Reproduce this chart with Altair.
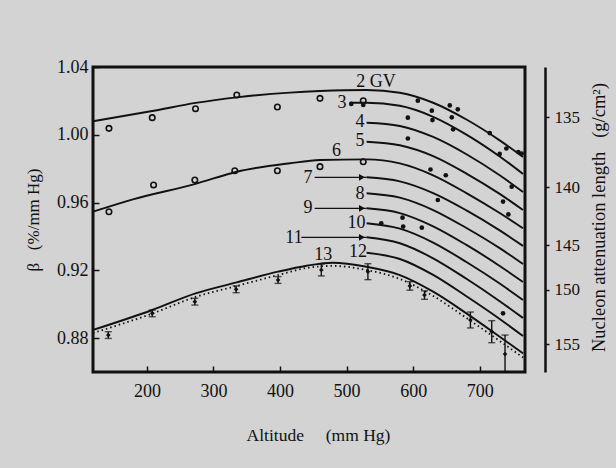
import altair as alt
import pandas as pd

FONT = "Liberation Serif"
BG = "#d3d3d3"
INK = "#111111"

# ---- curves (x in mm Hg, beta in %/mm Hg) ----
x_c2 = [119, 208, 273, 335, 415, 460, 530, 580, 630, 680, 730, 765]
b_c2 = [1.0080, 1.0140, 1.0188, 1.0221, 1.0249, 1.0258, 1.0264, 1.0248, 1.0189, 1.0090, 0.9967, 0.9869]
x_c3 = [505, 530, 580, 630, 680, 730, 765]
b_c3 = [1.0189, 1.0189, 1.0171, 1.0106, 1.0001, 0.9872, 0.9769]
x_right = [530, 580, 630, 680, 730, 765]
b_c4 = [1.0071, 1.0052, 0.9987, 0.9885, 0.9761, 0.9662]
b_c5 = [0.9959, 0.9938, 0.9874, 0.9771, 0.9651, 0.9556]
x_c6 = [119, 179, 273, 335, 415, 460, 530, 580, 630, 680, 730, 765]
b_c6 = [0.9546, 0.9619, 0.9710, 0.9782, 0.9832, 0.9851, 0.9855, 0.9831, 0.9761, 0.9656, 0.9538, 0.9448]
b_c7 = [0.9749, 0.9725, 0.9656, 0.9554, 0.9436, 0.9344]
b_c8 = [0.9655, 0.9629, 0.9556, 0.9450, 0.9331, 0.9237]
b_c9 = [0.9566, 0.9538, 0.9460, 0.9350, 0.9226, 0.9131]
b_c10 = [0.9478, 0.9446, 0.9364, 0.9249, 0.9122, 0.9025]
b_c11 = [0.9395, 0.9360, 0.9271, 0.9150, 0.9018, 0.8919]
b_c12 = [0.9304, 0.9267, 0.9173, 0.9047, 0.8913, 0.8812]
x_c13 = [119, 208, 273, 335, 397, 440, 479, 530, 580, 630, 680, 730, 765]
b_c13 = [0.8848, 0.8966, 0.9064, 0.9129, 0.9192, 0.9227, 0.9245, 0.9221, 0.9172, 0.9074, 0.8946, 0.8808, 0.8710]
b_c13_dotted = [0.8830, 0.8945, 0.9043, 0.9108, 0.9172, 0.9214, 0.9226, 0.9202, 0.9149, 0.9049, 0.8919, 0.8783, 0.8686]

# ---- data points ----
x_open_a = [143, 208, 273, 335, 396, 460, 525]
b_open_a = [1.0038, 1.0101, 1.0154, 1.0235, 1.0164, 1.0215, 1.0201]
x_open_b = [143, 210, 272, 332, 396, 460, 525]
b_open_b = [0.9546, 0.9704, 0.9733, 0.9788, 0.9788, 0.9812, 0.9841]

x_err = [142, 208, 272, 334, 397, 462, 532, 595, 617, 686, 718, 738]
b_err = [0.8818, 0.8946, 0.9015, 0.9088, 0.9143, 0.9202, 0.9192, 0.9108, 0.9054, 0.8907, 0.8838, 0.8706]
err_up = [0.002, 0.002, 0.002, 0.002, 0.002, 0.0035, 0.0047, 0.0025, 0.0025, 0.0047, 0.0065, 0.0112]
err_dn = [0.002, 0.002, 0.002, 0.002, 0.002, 0.0035, 0.0047, 0.0025, 0.0025, 0.0047, 0.0065, 0.0106]

x_dots = [507, 525, 607, 655, 667, 628, 658, 592, 629, 660, 715, 740, 730, 758, 763,
          592, 626, 649, 748, 735, 637, 743, 552, 584, 585, 613, 735]
b_dots = [1.0182, 1.0176, 1.0201, 1.0173, 1.0150, 1.0142, 1.0103, 1.0101, 1.0087, 1.0032,
          1.0010, 0.9919, 0.9887, 0.9898, 0.9889, 0.9978, 0.9795, 0.9761, 0.9694, 0.9606,
          0.9615, 0.9530, 0.9478, 0.9511, 0.9458, 0.9452, 0.8946]

# ---- curve labels ----
lab_text = ["2 GV", "3", "4", "5", "6", "7", "8", "9", "10", "11", "12", "13"]
lab_x = [544, 493, 520, 520, 485, 442, 520, 442, 515, 421, 517, 465]
lab_b = [1.0313, 1.0189, 1.0077, 0.9963, 0.9906, 0.9743, 0.9650, 0.9566, 0.9481, 0.9393, 0.9310, 0.9290]

# arrows for 7, 9, 11
arr_x0 = [452, 452, 432]
arr_x1 = [530, 530, 530]
arr_head = [523, 523, 523]
arr_b = [0.9749, 0.9566, 0.9395]

# ---- axes ----
x_ticks = [200, 300, 400, 500, 600, 700]
y_ticks = [0.88, 0.92, 0.96, 1.00, 1.04]
rt_labels = [135, 140, 145, 150, 155]
rt_beta = [1.0103, 0.9690, 0.9349, 0.9084, 0.8763]

# ---- build tables ----
rows = []
def add(name, xs, bs):
    for x, b in zip(xs, bs):
        rows.append({"curve": name, "x": x, "b": b})
add("2", x_c2, b_c2)
add("3", x_c3, b_c3)
add("4", x_right, b_c4)
add("5", x_right, b_c5)
add("6", x_c6, b_c6)
add("7", x_right, b_c7)
add("8", x_right, b_c8)
add("9", x_right, b_c9)
add("10", x_right, b_c10)
add("11", x_right, b_c11)
add("12", x_right, b_c12)
add("13", x_c13, b_c13)
df_curves = pd.DataFrame(rows)
df_dot13 = pd.DataFrame({"x": x_c13, "b": b_c13_dotted})
df_open = pd.DataFrame({"x": x_open_a + x_open_b, "b": b_open_a + b_open_b})
df_err = pd.DataFrame({"x": x_err, "b": b_err,
                       "hi": [b + u for b, u in zip(b_err, err_up)],
                       "lo": [b - d for b, d in zip(b_err, err_dn)]})
df_dots = pd.DataFrame({"x": x_dots, "b": b_dots})
df_lab = pd.DataFrame({"t": lab_text, "x": lab_x, "b": lab_b})
df_arr = pd.DataFrame({"x0": arr_x0, "x1": arr_x1, "xh": arr_head, "b": arr_b})
df_rt = pd.DataFrame({"b": rt_beta})

xs = alt.Scale(domain=[119, 768], nice=False, zero=False)
ys = alt.Scale(domain=[0.86, 1.04], nice=False, zero=False)

X = alt.X("x:Q", scale=xs, axis=alt.Axis(
    values=x_ticks, format="d", offset=-6, tickSize=6, tickWidth=1.5, tickColor=INK,
    domain=False, grid=False, labelPadding=10, labelFontSize=18, labelColor=INK,
    title="Altitude\u00a0\u00a0\u00a0\u00a0\u00a0(mm Hg)", titleFontSize=17.5, titlePadding=26,
    titleX=225, titleAlign="center",
    titleColor=INK, titleFontWeight="normal"))
Y = alt.Y("b:Q", scale=ys, axis=alt.Axis(
    values=y_ticks, format=".2f", offset=-6, tickSize=6, tickWidth=1.5, tickColor=INK,
    domain=False, grid=False, labelPadding=5, labelFontSize=18, labelColor=INK,
    title="\u03b2\u00a0\u00a0\u00a0(%/mm Hg)", titleFontSize=17, titlePadding=14,
    titleColor=INK, titleFontWeight="normal"))
Xn = alt.X("x:Q", scale=xs)
Yn = alt.Y("b:Q", scale=ys)

curves = alt.Chart(df_curves).mark_line(interpolate="monotone", color=INK, strokeWidth=1.9).encode(
    x=X, y=Y, detail="curve:N", order="x:Q")
dotted = alt.Chart(df_dot13).mark_line(interpolate="monotone", color=INK, strokeWidth=1.8,
                                       strokeDash=[1.5, 3]).encode(x=Xn, y=Yn)
arrows = alt.Chart(df_arr).mark_rule(color=INK, strokeWidth=1.3).encode(
    x=alt.X("x0:Q", scale=xs), x2="x1:Q", y=Yn)
heads = alt.Chart(df_arr).mark_point(shape="triangle-right", filled=True, color=INK,
                                     size=45, opacity=1).encode(x=alt.X("xh:Q", scale=xs), y=Yn)
opens = alt.Chart(df_open).mark_point(shape="circle", filled=False, color=INK, size=30,
                                      strokeWidth=1.6, opacity=1).encode(x=Xn, y=Yn)
dots = alt.Chart(df_dots).mark_point(shape="circle", filled=True, color=INK, size=22,
                                     opacity=1).encode(x=Xn, y=Yn)
ebar = alt.Chart(df_err).mark_rule(color=INK, strokeWidth=1.4).encode(
    x=Xn, y=alt.Y("lo:Q", scale=ys), y2="hi:Q")
ecap_hi = alt.Chart(df_err).mark_tick(color=INK, orient="horizontal", size=7, thickness=1.4).encode(
    x=Xn, y=alt.Y("hi:Q", scale=ys))
ecap_lo = alt.Chart(df_err).mark_tick(color=INK, orient="horizontal", size=7, thickness=1.4).encode(
    x=Xn, y=alt.Y("lo:Q", scale=ys))
epts = alt.Chart(df_err).mark_point(shape="diamond", filled=True, color=INK, size=22,
                                    opacity=1).encode(x=Xn, y=Yn)
labels = alt.Chart(df_lab).mark_text(font=FONT, fontSize=18, color=INK, align="center",
                                     baseline="middle").encode(x=Xn, y=Yn, text="t:N")

main = alt.layer(curves, dotted, arrows, heads, opens, dots, ebar, ecap_hi, ecap_lo, epts, labels)

label_expr = " : ".join(
    f"abs(datum.value - {v}) < 0.0005 ? '{t}'" for v, t in zip(rt_beta, rt_labels)) + " : ''"
right = alt.Chart(df_rt).mark_point(opacity=0).encode(
    x=alt.value(0),
    y=alt.Y("b:Q", scale=ys, axis=alt.Axis(
        orient="right", values=rt_beta, labelExpr=label_expr, offset=20,
        tickSize=4, tickWidth=1.5, tickColor=INK, domainWidth=2.5, domainColor=INK,
        grid=False, labelPadding=5, labelFontSize=17, labelColor=INK,
        title="Nucleon attenuation length\u00a0\u00a0\u00a0(g/cm\u00b2)", titleAngle=270,
        titleX=53, titleY=150, titleAlign="center", titleBaseline="middle",
        titleFontSize=18.5, titleColor=INK, titleFontWeight="normal")))

chart = alt.layer(main, right).resolve_scale(y="independent").properties(
    width=432, height=305,
    padding={"left": 93, "top": 67, "right": 91, "bottom": 96},
    autosize=alt.AutoSizeParams(type="none"),
    background=BG,
).configure_view(stroke=INK, strokeWidth=3).configure_axis(
    labelFont=FONT, titleFont=FONT
).configure_text(font=FONT)

chart.save("out.html", embed_options={"renderer": "svg", "actions": False})
